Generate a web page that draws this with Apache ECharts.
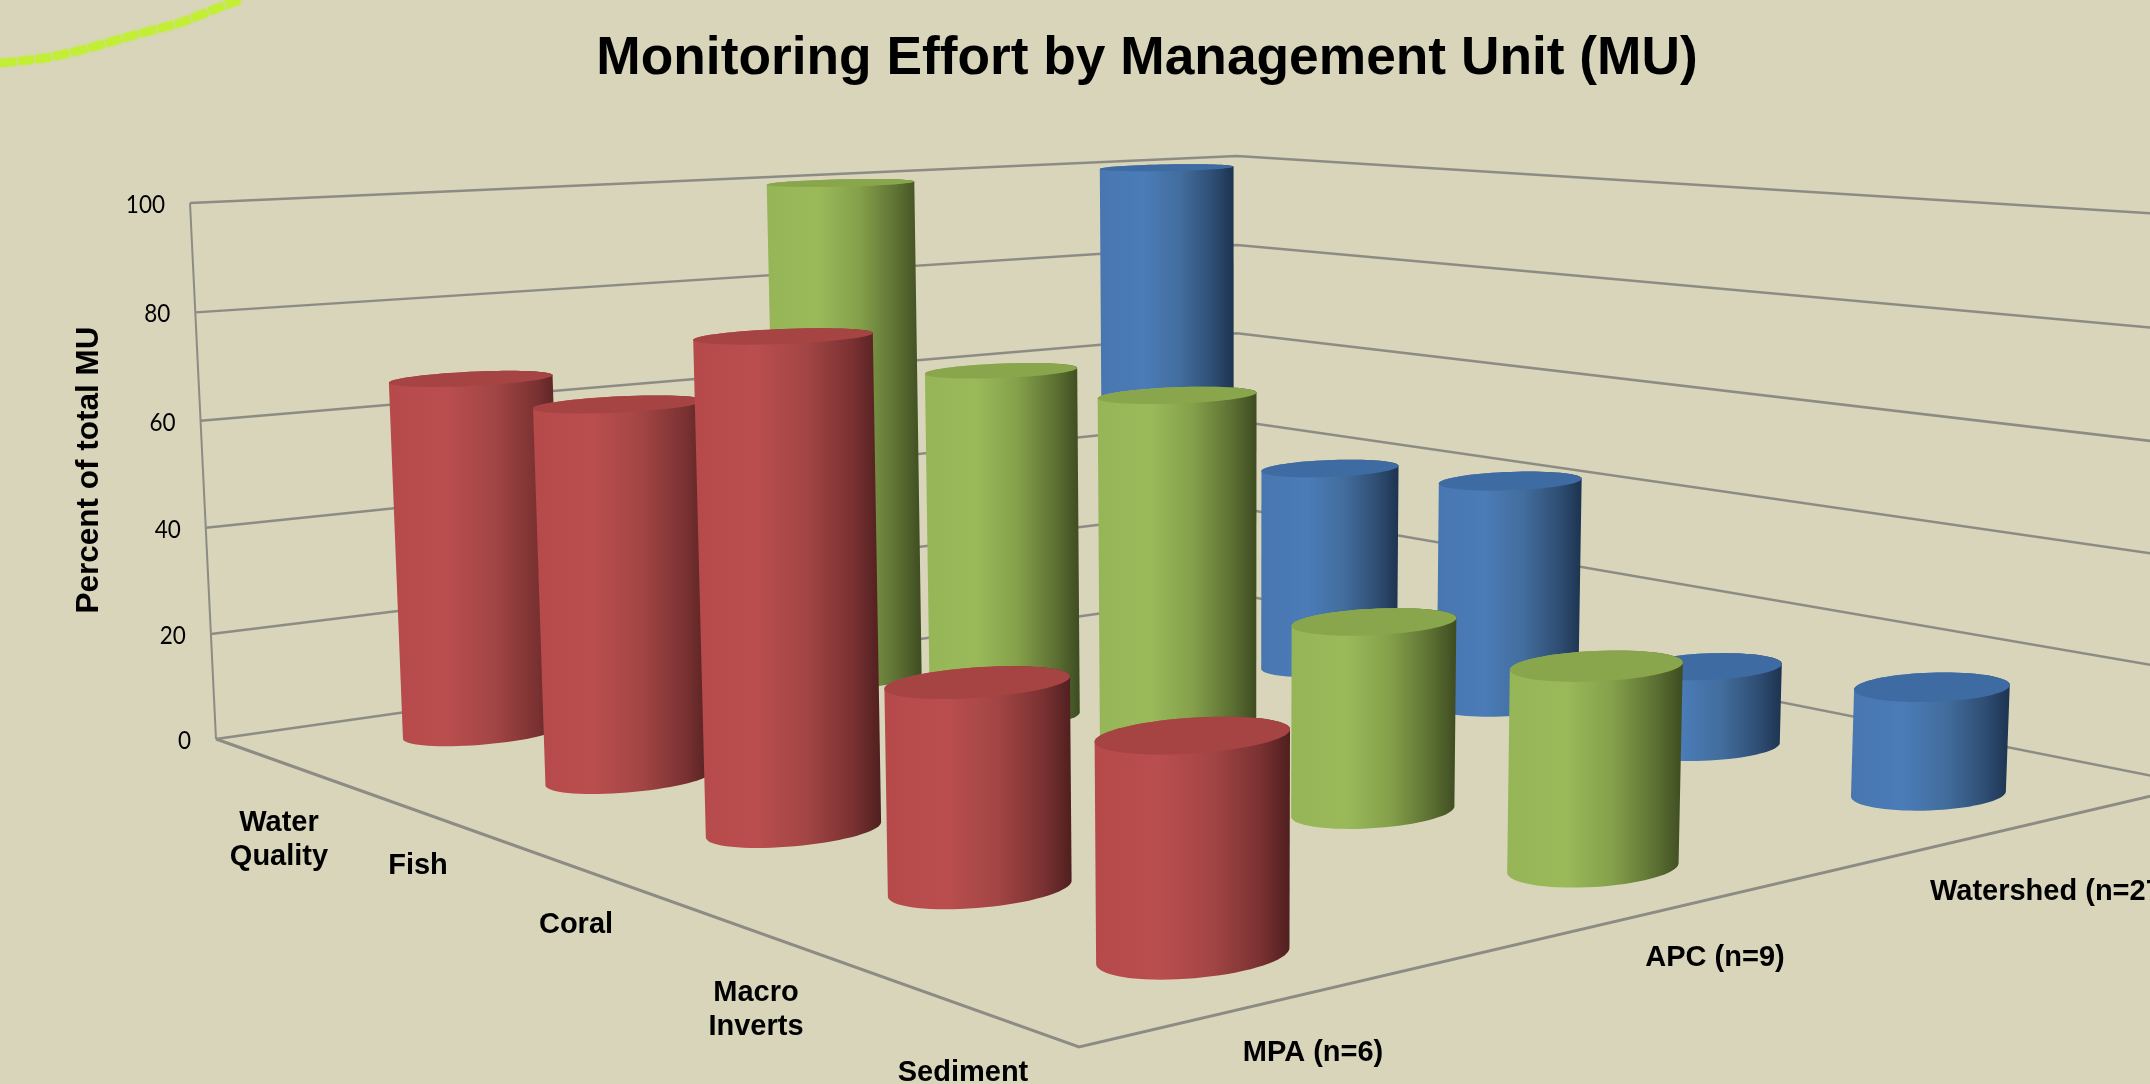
<!DOCTYPE html>
<html>
<head>
<meta charset="utf-8">
<style>
  html, body { margin: 0; padding: 0; background: #d8d5bb; overflow: hidden; }
  #chart { width: 2150px; height: 1084px; }
</style>
<script src="https://cdn.jsdelivr.net/npm/echarts@6/dist/echarts.min.js"></script>
</head>
<body>
<div id="chart"></div>
<script>
const categories = ['Water\nQuality', 'Fish', 'Coral', 'Macro\nInverts', 'Sediment']
const seriesNames = ['MPA (n=6)', 'APC (n=9)', 'Watershed (n=27)']
const mpaValues = [67, 67, 83, 33, 33]
const apcValues = [100, 67, 67, 33, 33]
const watershedValues = [100, 41, 44, 15, 19]
const valueTicks = [0, 20, 40, 60, 80, 100]

const seriesValues = [mpaValues, apcValues, watershedValues]
const seriesStyles = [
    { top: '#a64343', stops: ['#b64949', '#ba4e4e', '#a34545', '#7a3131', '#4f1f1f'] },
    { top: '#8aa64c', stops: ['#95b557', '#9aba5a', '#84a04a', '#5b6f32', '#3e4c21'] },
    { top: '#3f6ba3', stops: ['#4876b0', '#4b7cb8', '#426d9d', '#2e4d72', '#1d3350'] }
]

// frame of the chart box: world point -> picture point, the projection is solved from these
const calibration = [
    [[0, 0, 0], [216, 739]],
    [[0, 0, 100], [190, 203]],
    [[5, 0, 0], [1079, 1047]],
    [[5, 3, 0], [2198, 785]],
    [[0, 3, 0], [1237, 594]],
    [[0, 3, 100], [1237, 156]]
]

function solveProjection(points) {
    const rows = []
    const rhs = []
    points.forEach(([w, p]) => {
        const X = w[0] / 5, Y = w[1] / 3, Z = w[2] / 100, x = p[0] / 1000, y = p[1] / 1000
        rows.push([X, Y, Z, 1, 0, 0, 0, 0, -x * X, -x * Y, -x * Z]); rhs.push(x)
        rows.push([0, 0, 0, 0, X, Y, Z, 1, -y * X, -y * Y, -y * Z]); rhs.push(y)
    })
    const n = 11
    const A = []
    for (let i = 0; i < n; i++) {
        A.push([])
        for (let j = 0; j < n; j++) A[i].push(rows.reduce((s, r) => s + r[i] * r[j], 0))
        A[i].push(rows.reduce((s, r, k) => s + r[i] * rhs[k], 0))
    }
    for (let c = 0; c < n; c++) {
        let best = c
        for (let r = c + 1; r < n; r++) if (Math.abs(A[r][c]) > Math.abs(A[best][c])) best = r
        const tmp = A[c]; A[c] = A[best]; A[best] = tmp
        for (let r = 0; r < n; r++) {
            if (r === c) continue
            const f = A[r][c] / A[c][c]
            for (let k = c; k <= n; k++) A[r][k] -= f * A[c][k]
        }
    }
    return A.map((r, i) => r[n] / r[i])
}

const m = solveProjection(calibration)

function project(u, v, z) {
    const X = u / 5, Y = v / 3, Z = z / 100
    const d = m[8] * X + m[9] * Y + m[10] * Z + 1
    return [
        1000 * (m[0] * X + m[1] * Y + m[2] * Z + m[3]) / d,
        1000 * (m[4] * X + m[5] * Y + m[6] * Z + m[7]) / d
    ]
}

function hull(points) {
    const pts = points.slice().sort((a, b) => a[0] - b[0] || a[1] - b[1])
    const cross = (o, a, b) => (a[0] - o[0]) * (b[1] - o[1]) - (a[1] - o[1]) * (b[0] - o[0])
    const lower = [], upper = []
    pts.forEach(p => {
        while (lower.length >= 2 && cross(lower[lower.length - 2], lower[lower.length - 1], p) <= 0) lower.pop()
        lower.push(p)
    })
    pts.slice().reverse().forEach(p => {
        while (upper.length >= 2 && cross(upper[upper.length - 2], upper[upper.length - 1], p) <= 0) upper.pop()
        upper.push(p)
    })
    return lower.slice(0, -1).concat(upper.slice(0, -1))
}

const RADIUS_U = 0.215
const RADIUS_V = 0.19

function circle(u, v, z) {
    const out = []
    for (let a = 0; a < 72; a++) {
        const t = a / 72 * Math.PI * 2
        out.push(project(u + RADIUS_U * Math.cos(t), v + RADIUS_V * Math.sin(t), z))
    }
    return out
}

function renderCylinder(params, api) {
    const style = seriesStyles[api.value(1)]
    const u = api.value(0) + 0.5
    const v = api.value(1) + 0.5
    const base = circle(u, v, 0)
    const top = circle(u, v, api.value(2))
    const s = style.stops
    return {
        type: 'group',
        children: [
            {
                type: 'polygon',
                shape: { points: hull(base.concat(top)) },
                style: {
                    fill: new echarts.graphic.LinearGradient(0, 0, 1, 0, [
                        { offset: 0, color: s[0] },
                        { offset: 0.33, color: s[1] },
                        { offset: 0.6, color: s[2] },
                        { offset: 0.85, color: s[3] },
                        { offset: 1, color: s[4] }
                    ])
                }
            },
            { type: 'polygon', shape: { points: top }, style: { fill: style.top } }
        ]
    }
}

const GRID_COLOR = '#8c8c84'

function renderGridLine(params, api) {
    const z = api.value(0)
    const left = project(0, 0, z)
    return {
        type: 'group',
        children: [
            {
                type: 'polyline',
                shape: { points: [left, project(0, 3, z), project(5, 3, z)] },
                style: { stroke: GRID_COLOR, lineWidth: 2.5, fill: 'none' }
            },
            {
                type: 'text',
                x: left[0] - 25,
                y: left[1] + 2,
                scaleX: 0.9,
                style: {
                    text: String(z),
                    align: 'right',
                    verticalAlign: 'middle',
                    font: '25px Lato',
                    fill: '#000'
                }
            }
        ]
    }
}

function renderFrame() {
    const c = (u, v, z) => project(u, v, z)
    const line = (pts, w) => ({
        type: 'polyline',
        shape: { points: pts },
        style: { stroke: GRID_COLOR, lineWidth: w, fill: 'none' }
    })
    return {
        type: 'group',
        children: [
            line([c(0, 0, 100), c(0, 0, 0)], 2),
            line([c(0, 0, 0), c(5, 0, 0), c(5, 3, 0)], 3)
        ]
    }
}

const labelFont = 'bold 29px "Liberation Sans", Arial, sans-serif'

function axisText(text, x, y, align) {
    return {
        type: 'text',
        x: x,
        y: y + 2,
        style: { text: text, font: labelFont, fill: '#000', align: align || 'center', verticalAlign: 'middle', lineHeight: 34 }
    }
}

const chart = echarts.init(document.getElementById('chart'))

chart.setOption({
    animation: false,
    backgroundColor: '#d8d5bb',
    title: {
        text: 'Monitoring Effort by Management Unit (MU)',
        left: 1142,
        top: 28,
        textAlign: 'center',
        textStyle: { fontFamily: '"Liberation Sans", Arial, sans-serif', fontWeight: 'bold', fontSize: 53.3, color: '#000' }
    },
    graphic: [
        {
            type: 'polyline',
            z: 0,
            shape: { points: [[0, 63], [45, 58], [89, 48], [134, 35], [179, 23], [223, 6], [240, 0]], smooth: 0.3 },
            style: { stroke: '#c2ee33', lineWidth: 8, fill: 'none', lineDash: [16, 2], shadowBlur: 3, shadowColor: '#c2ee33' }
        },
        {
            type: 'text',
            x: 89,
            y: 470,
            rotation: Math.PI / 2,
            style: { text: 'Percent of total MU', font: 'bold 31.5px "Liberation Sans", Arial, sans-serif', fill: '#000', align: 'center', verticalAlign: 'middle' }
        },
        axisText(categories[0], 279, 838),
        axisText(categories[1], 418, 864),
        axisText(categories[2], 576, 923),
        axisText(categories[3], 756, 1008),
        axisText(categories[4], 963, 1071),
        axisText(seriesNames[0], 1313, 1051),
        axisText(seriesNames[1], 1715, 956),
        axisText(seriesNames[2], 1930, 890, 'left')
    ],
    series: [
        {
            type: 'custom',
            name: 'Value grid',
            coordinateSystem: 'none',
            renderItem: renderGridLine,
            data: valueTicks.map(t => [t]),
            silent: true
        },
        {
            type: 'custom',
            name: 'Frame',
            coordinateSystem: 'none',
            renderItem: renderFrame,
            data: [[0]],
            silent: true
        }
    ].concat([2, 1, 0].map(j => ({
        type: 'custom',
        name: seriesNames[j],
        coordinateSystem: 'none',
        renderItem: renderCylinder,
        data: seriesValues[j].map((value, i) => [i, j, value])
    })))
})
</script>
</body>
</html>
